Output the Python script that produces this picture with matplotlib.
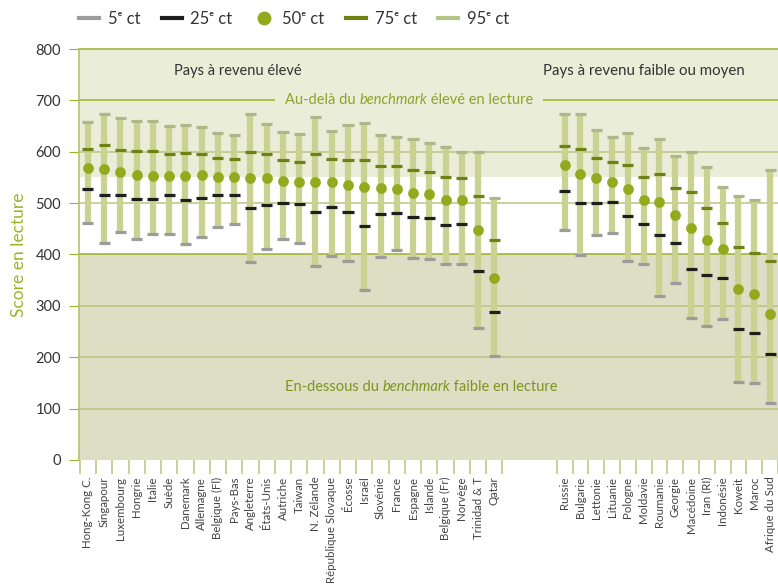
import numpy as np
import matplotlib
matplotlib.use("Agg")
import matplotlib.pyplot as plt
from matplotlib.lines import Line2D

plt.rcParams['font.family'] = ['Lato', 'DejaVu Sans']

# high income countries
high = ["Hong-Kong C.", "Singapour", "Luxembourg", "Hongrie", "Italie", "Suède",
        "Danemark", "Allemagne", "Belgique (Fl)", "Pays-Bas", "Angleterre",
        "États-Unis", "Autriche", "Taiwan", "N. Zélande", "République Slovaque",
        "Écosse", "Israël", "Slovénie", "France", "Espagne", "Islande",
        "Belgique (Fr)", "Norvège", "Trinidad & T", "Qatar"]
high_p5 = [462, 423, 444, 431, 439, 440, 421, 434, 453, 460, 386, 411, 430, 423,
           377, 397, 388, 330, 396, 408, 393, 392, 382, 382, 256, 203]
high_p25 = [528, 515, 515, 509, 509, 516, 507, 510, 516, 516, 490, 496, 501, 498,
            482, 492, 483, 455, 479, 481, 473, 472, 458, 460, 367, 288]
high_p50 = [569, 567, 561, 554, 553, 553, 553, 555, 550, 550, 548, 548, 544, 542,
            542, 542, 535, 531, 529, 528, 519, 518, 506, 506, 447, 354]
high_p75 = [606, 613, 604, 602, 602, 595, 597, 595, 587, 586, 600, 596, 584, 581,
            595, 585, 583, 584, 572, 572, 564, 561, 551, 548, 513, 428]
high_p95 = [658, 674, 665, 660, 659, 651, 652, 649, 637, 633, 674, 655, 639, 635,
            667, 641, 653, 656, 632, 628, 625, 618, 610, 600, 599, 510]

# low / middle income countries
low = ["Russie", "Bulgarie", "Lettonie", "Lituanie", "Pologne", "Moldavie",
       "Roumanie", "Georgie", "Macédoine", "Iran (RI)", "Indonésie", "Koweit",
       "Maroc", "Afrique du Sud"]
low_p5 = [447, 399, 438, 442, 388, 382, 319, 345, 276, 261, 274, 152, 150, 111]
low_p25 = [524, 500, 501, 502, 474, 459, 438, 422, 372, 360, 355, 254, 248, 206]
low_p50 = [574, 557, 548, 542, 528, 507, 503, 476, 451, 429, 411, 332, 323, 284]
low_p75 = [612, 606, 587, 580, 574, 550, 557, 529, 522, 491, 462, 414, 403, 387]
low_p95 = [674, 674, 643, 628, 637, 607, 624, 591, 600, 570, 531, 513, 506, 565]

names = high + low
p5 = np.array(high_p5 + low_p5)
p25 = np.array(high_p25 + low_p25)
p50 = np.array(high_p50 + low_p50)
p75 = np.array(high_p75 + low_p75)
p95 = np.array(high_p95 + low_p95)

# x positions: two groups separated by a gap
step2 = 0.972
x_high = np.arange(len(high), dtype=float)
x_low = 29.33 + np.arange(len(low)) * step2
x = np.concatenate([x_high, x_low])

olive = '#9BB027'
olive_light = '#B9C47E'
c_range = '#C9D291'
c_p5 = '#9C9C9C'
c_p25 = '#1E1E1E'
c_p50 = '#94AA1E'
c_p75 = '#6F8114'
c_p95 = '#AEB78A'
band_top = '#EAEDD8'
band_low = '#DCDFC4'

fig = plt.figure(figsize=(7.78, 5.87), dpi=100)
ax = fig.add_axes([0.1015, 0.2164, 0.8985, 0.7001])
ax.set_xlim(-0.55, 42.33)
ax.set_ylim(0, 800)

# background bands
ax.axhspan(550, 800, color=band_top, zorder=0, lw=0)
ax.axhspan(0, 400, color=band_low, zorder=0, lw=0)

# gridlines
for yv in range(100, 801, 100):
    col = olive if yv in (400, 700, 800) else olive_light
    ax.axhline(yv, color=col, lw=1.1, zorder=1, clip_on=False)

# ranges and percentile marks
ax.vlines(x, p5, p95, color=c_range, lw=4.5, zorder=2)
cw = 0.34
ax.hlines(p5, x - cw, x + cw, color=c_p5, lw=2.3, zorder=3)
ax.hlines(p95, x - cw, x + cw, color=c_p95, lw=2.3, zorder=3)
ax.hlines(p25, x - cw, x + cw, color=c_p25, lw=2.3, zorder=4)
ax.hlines(p75, x - cw, x + cw, color=c_p75, lw=2.3, zorder=4)
ax.scatter(x, p50, s=60, color=c_p50, zorder=5, lw=0)

# axes styling
for s in ['top', 'right', 'bottom']:
    ax.spines[s].set_visible(False)
ax.spines['left'].set_color('#B5C26A')
ax.spines['left'].set_linewidth(1.2)
ax.set_yticks(range(0, 801, 100))
ax.tick_params(axis='y', length=7, color=olive, labelsize=10.5,
               labelcolor='#333333', pad=6)
ax.set_ylabel("Score en lecture", color='#9AB52A', fontsize=12.5, labelpad=6)

ax.set_xticks(x)
ax.set_xticklabels(names, rotation=90, fontsize=8.3, color='#444444')
ax.tick_params(axis='x', length=0, pad=12)
bounds = np.concatenate([np.arange(len(high) + 1) - 0.5,
                         x_low[0] - step2 / 2 + np.arange(len(low) + 1) * step2])
ax.set_xticks(bounds, minor=True)
ax.tick_params(axis='x', which='minor', length=10, color=olive_light, width=1.1)

# group labels
ax.text(9.2, 757, "Pays à revenu élevé", ha='center', va='center',
        fontsize=10.5, color='#333333', zorder=6)
ax.text(34.2, 757, "Pays à revenu faible ou moyen", ha='center', va='center',
        fontsize=10.8, color='#333333', zorder=6)


def mixed_text(xc, y, parts, bg, color):
    # parts: list of (string, italic)
    fig.canvas.draw()
    r = fig.canvas.get_renderer()
    texts = []
    for s, it in parts:
        t = ax.text(0, y, s, fontsize=10.5, color=color, va='center',
                    style='italic' if it else 'normal', zorder=7)
        texts.append(t)
    widths = [t.get_window_extent(r).width for t in texts]
    inv = ax.transData.inverted()
    x0_disp = ax.transData.transform((xc, y))[0] - sum(widths) / 2
    x_cur = x0_disp
    for t, w in zip(texts, widths):
        t.set_x(inv.transform((x_cur, 0))[0])
        x_cur += w
    # mask behind text
    xa = inv.transform((x0_disp - 10, 0))[0]
    xb = inv.transform((x_cur + 10, 0))[0]
    ax.fill_between([xa, xb], y - 14, y + 14, color=bg, zorder=6, lw=0)


mixed_text(19.75, 700, [("Au-delà du ", False), ("benchmark", True),
                        (" élevé en lecture", False)], band_top, '#8EA32A')
mixed_text(20.5, 143, [("En-dessous du ", False), ("benchmark", True),
                       (" faible en lecture", False)], band_low, '#7F9323')

# legend
handles = [Line2D([], [], color=c_p5, lw=3),
           Line2D([], [], color=c_p25, lw=3),
           Line2D([], [], color=c_p50, marker='o', ls='', markersize=9),
           Line2D([], [], color=c_p75, lw=3),
           Line2D([], [], color='#B5C384', lw=3)]
labels = ["5ᵉ ct", "25ᵉ ct", "50ᵉ ct", "75ᵉ ct", "95ᵉ ct"]
fig.legend(handles, labels, loc='center', bbox_to_anchor=(0.378, 0.968),
           ncol=5, frameon=False, fontsize=12, handlelength=1.2,
           handletextpad=0.5, columnspacing=1.3, labelcolor='#333333')

fig.savefig("out.png", dpi=100)
